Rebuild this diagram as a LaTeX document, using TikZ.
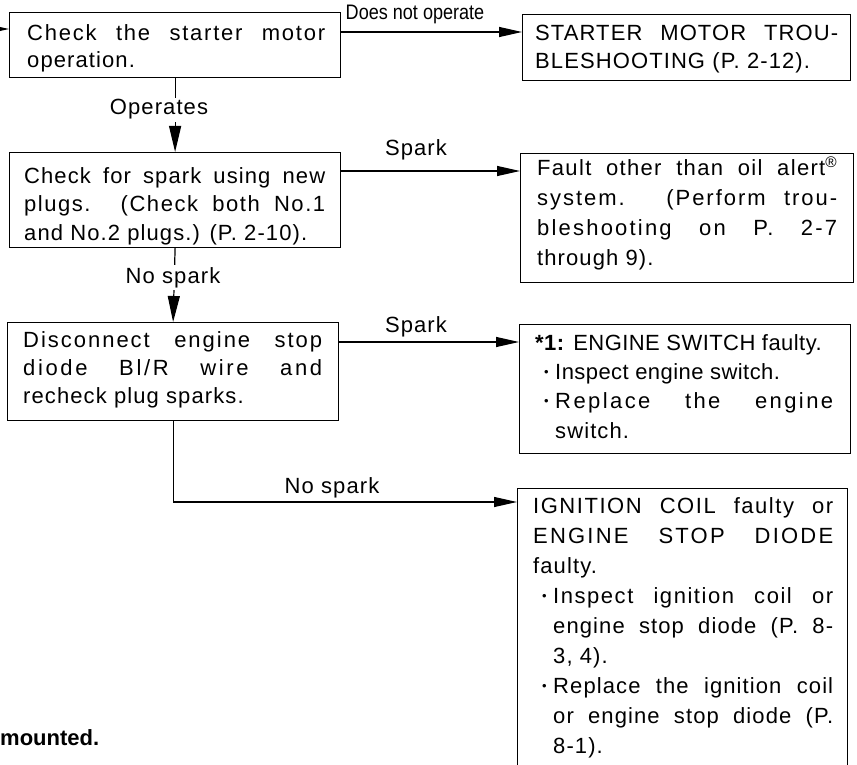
\documentclass[tikz,border=0pt]{standalone}
\usepackage{fontspec}
\usepackage{graphicx}
\setmainfont{Liberation Sans}[LetterSpace=5.0]
\newfontfamily\narrowf{Liberation Sans}
\usetikzlibrary{arrows.meta}
\newcommand\bulmark{\makebox[20pt][l]{\hspace{9pt}\raisebox{3pt}{\fontsize{13}{13}\selectfont •}}}
\newcommand\bulitem{\par\noindent\hangindent=20pt\hangafter=1 \bulmark}
\newcommand\lsp[2]{{\addfontfeature{LetterSpace=#1}#2}}
\tikzset{
  box/.style={draw, line width=1.2pt, inner sep=0pt, anchor=north west},
  txt/.style={inner sep=0pt, anchor=north west, align=justify},
  lbl/.style={inner sep=0pt, font=\fontsize{22}{26}\selectfont},
  harr/.style={line width=1.2pt, -{Triangle[length=23pt,width=10pt]}},
  varr/.style={line width=1.2pt, -{Triangle[length=26pt,width=12pt]}}
}
\begin{document}
\begin{tikzpicture}[x=1pt,y=-1pt]
\useasboundingbox (0,0) rectangle (857,765);

% boxes
\node[box, minimum width=331pt, minimum height=65pt] (b1) at (9,12) {};
\node[box, minimum width=328pt, minimum height=66pt] (b2) at (522,14) {};
\node[box, minimum width=331pt, minimum height=95pt] (b3) at (9,152) {};
\node[box, minimum width=333pt, minimum height=129pt] (b4) at (520,153) {};
\node[box, minimum width=331pt, minimum height=98pt] (b5) at (7,322) {};
\node[box, minimum width=331pt, minimum height=129pt] (b6) at (519,324) {};
\node[box, minimum width=330pt, minimum height=320pt] (b7) at (517,488) {};

% texts
\node[txt, text width=298pt, font=\fontsize{22}{27}\selectfont] (t1) at (27,21.1)
  {\strut \lsp{8}{Check the starter motor}\linebreak operation.};
\node[txt, text width=303pt, font=\fontsize{22}{28}\selectfont] (t2) at (535,20.4)
  {\strut STARTER MOTOR TROU-\linebreak BLESHOOTING (P. 2-12).};
\node[txt, text width=301pt, font=\fontsize{22}{28.5}\selectfont] (t3) at (24,163)
  {\strut Check for spark using new\linebreak \lsp{7}{plugs. (Check both No.1}\linebreak and No.2 plugs.) (P. 2-10).};
\node[txt, text width=300pt, font=\fontsize{22}{30}\selectfont] (t4) at (537,154)
  {\strut \lsp{6}{Fault other than oil alert\textsuperscript{®}}\linebreak \lsp{9}{system. (Perform trou-}\linebreak \lsp{10}{bleshooting on P. 2-7}\linebreak through 9).};
\node[txt, text width=299pt, font=\fontsize{22}{28}\selectfont] (t5) at (23,327.4)
  {\strut \lsp{9}{Disconnect engine stop}\linebreak \lsp{12}{diode Bl/R wire and}\linebreak recheck plug sparks.};
\node[txt, text width=298pt, font=\fontsize{22}{29.3}\selectfont] (t6) at (535,329.5)
  {\strut{\addfontfeature{LetterSpace=2.0}\textbf{*1:} ENGINE SWITCH faulty.}%
   \bulitem{\addfontfeature{LetterSpace=2.0}Inspect engine switch.}%
   \bulitem \lsp{11}{Replace the engine}\linebreak switch.\par};
\node[txt, text width=300pt, font=\fontsize{22}{30}\selectfont] (t7) at (533,492)
  {\strut \lsp{7}{IGNITION COIL faulty or}\linebreak \lsp{10}{ENGINE STOP DIODE}\linebreak faulty.%
   \bulitem \lsp{7}{Inspect ignition coil or}\linebreak engine stop diode (P. 8-\linebreak 3, 4).%
   \bulitem Replace the ignition coil\linebreak or engine stop diode (P.\linebreak 8-1).\par};

% connectors
\coordinate (in) at (-30,29);
\draw[harr] (in) -- (b1.west |- in);

\draw[harr] (b1.east |- 0,32) -- (b2.west |- 0,32);
\node[anchor=base, inner sep=0pt] (l1) at (415,20)
  {\narrowf\fontsize{21}{21}\selectfont\scalebox{0.86}[1]{Does not operate}};

\draw[varr] (b1.south) -- (b3.north);
\node[lbl, anchor=base, fill=white, inner ysep=2pt] (l2) at (159,115) {Operates};

\draw[harr] (b3.east |- 0,171) -- (b4.west |- 0,171);
\node[lbl, anchor=base] (l3) at (416,156) {Spark};

\draw[varr] (b3.south) -- (b5.north);
\node[lbl, anchor=base, fill=white, inner ysep=2pt] (l4) at (173,283) {No spark};

\draw[harr] (b5.east |- 0,342) -- (b6.west |- 0,342);
\node[lbl, anchor=base] (l5) at (416,332) {Spark};

\draw[harr] (b5.south) |- (b7.west |- 0,502);
\node[lbl, anchor=base] (l6) at (332,493) {No spark};

\node[anchor=base west, inner sep=0pt, font={\fontsize{22}{22}\selectfont\bfseries\addfontfeature{LetterSpace=0.0}}] (m) at (0,745) {mounted.};
\end{tikzpicture}
\end{document}
